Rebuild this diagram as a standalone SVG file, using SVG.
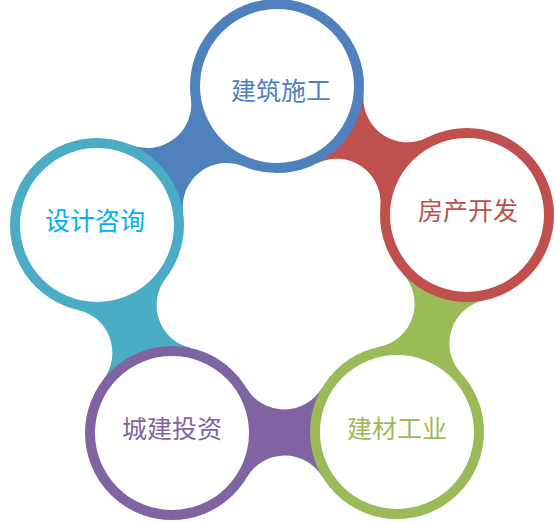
<svg xmlns="http://www.w3.org/2000/svg" width="555" height="522" viewBox="0 0 555 522">
  <style>
    .ring { fill: #ffffff; stroke-width: 10; }
    .lbl { font-family: "Noto Sans CJK SC", "Noto Sans CJK JP", sans-serif; font-size: 25px; text-anchor: middle; dominant-baseline: central; }
    .blue { stroke: #4F81BD; } .red { stroke: #C0504D; } .green { stroke: #9BBB59; } .purple { stroke: #8064A2; } .teal { stroke: #4BACC6; }
  </style>
  <rect width="555" height="522" fill="#ffffff"/>
  <g id="connectors">
    <path id="bridge-T-R" fill="#C0504D" d="M316.57,163.48 A44,44 0 0 1 380.39,206.80 L427.43,137.52 A44,44 0 0 1 363.61,94.20 Z"/>
    <path id="bridge-R-BR" fill="#9BBB59" d="M402.97,273.90 A44,44 0 0 1 379.46,346.79 L461.03,373.10 A44,44 0 0 1 484.54,300.21 Z"/>
    <path id="bridge-BR-BL" fill="#8064A2" d="M322.09,387.76 A44,44 0 0 1 246.51,388.09 L246.91,477.24 A44,44 0 0 1 322.49,476.91 Z"/>
    <path id="bridge-BL-L" fill="#4BACC6" d="M191.00,348.10 A44,44 0 0 1 165.81,278.24 L78.00,309.90 A44,44 0 0 1 103.19,379.76 Z"/>
    <path id="bridge-L-T" fill="#4F81BD" d="M183.17,213.03 A44,44 0 0 1 243.63,166.35 L190.83,97.97 A44,44 0 0 1 130.37,144.65 Z"/>
  </g>
  <g id="node-jianzhu">
    <circle class="ring blue" cx="277" cy="86" r="82"/>
    <text class="lbl" x="281" y="89" fill="#4F81BD">建筑施工</text>
  </g>
  <g id="node-fangchan">
    <circle class="ring red" cx="467" cy="215" r="82"/>
    <text class="lbl" x="468" y="209" fill="#C0504D">房产开发</text>
  </g>
  <g id="node-jiancai">
    <circle class="ring green" cx="397" cy="432" r="82"/>
    <text class="lbl" x="397" y="427" fill="#9BBB59">建材工业</text>
  </g>
  <g id="node-chengjian">
    <circle class="ring purple" cx="172" cy="433" r="82"/>
    <text class="lbl" x="172" y="427" fill="#8064A2">城建投资</text>
  </g>
  <g id="node-sheji">
    <circle class="ring teal" cx="97" cy="225" r="82"/>
    <text class="lbl" x="95" y="219" fill="#00B0F0">设计咨询</text>
  </g>
</svg>
